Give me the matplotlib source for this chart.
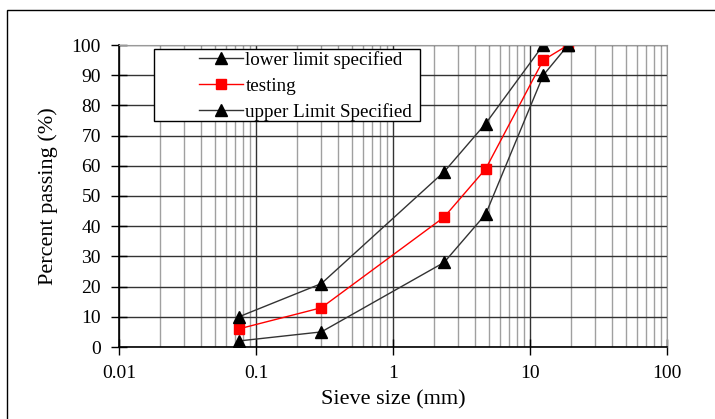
import matplotlib
matplotlib.use('Agg')
import matplotlib.pyplot as plt
from matplotlib.patches import Rectangle
from matplotlib.ticker import LogLocator, FixedLocator, NullFormatter

plt.rcParams['font.family'] = ['Liberation Serif', 'DejaVu Serif']

# sieve sizes (mm) and percent passing
sieve = [0.075, 0.3, 2.36, 4.75, 12.5, 19]
lower = [2, 5, 28, 44, 90, 100]
testing = [6, 13, 43, 59, 95, 100]
upper = [10, 21, 58, 74, 100, 100]

W, H = 715, 419
fig = plt.figure(figsize=(W / 100, H / 100), dpi=100)
ax = fig.add_axes([119 / W, 1 - 347 / H, (667 - 119) / W, (347 - 45) / H])

# outer frame of the picture
fig.patches.append(Rectangle((7 / W, -0.1), 1.2, 1 - 10 / H + 0.1,
                             transform=fig.transFigure, fill=False,
                             edgecolor='black', linewidth=1.0, zorder=0))

ax.set_xscale('log')
ax.set_xlim(0.01, 100)
ax.set_ylim(0, 100)
ax.yaxis.set_major_locator(FixedLocator(range(0, 101, 10)))
ax.xaxis.set_minor_locator(LogLocator(base=10, subs=range(2, 10)))
ax.xaxis.set_minor_formatter(NullFormatter())
ax.set_xticks([0.01, 0.1, 1, 10, 100])
ax.set_xticklabels(['0.01', '0.1', '1', '10', '100'])

ax.grid(which='major', axis='x', color='#333333', linewidth=1.0)
ax.grid(which='minor', axis='x', color='#a0a0a0', linewidth=1.0)
ax.grid(which='major', axis='y', color='#333333', linewidth=1.0)
ax.set_axisbelow(True)

ax.tick_params(which='major', direction='inout', length=12, width=1,
               labelsize=14, pad=7)
ax.tick_params(which='minor', length=0)

ax.spines['top'].set_color('#999999')
ax.spines['right'].set_color('#999999')
ax.spines['left'].set_linewidth(1.2)
ax.spines['bottom'].set_linewidth(1.2)

ax.plot(sieve, lower, color='#333333', marker='^', markersize=8,
        markerfacecolor='black', markeredgecolor='black', linewidth=1,
        label='lower limit specified')
ax.plot(sieve, testing, color='red', marker='s', markersize=7,
        markerfacecolor='red', markeredgecolor='red', linewidth=1,
        label='testing')
ax.plot(sieve, upper, color='#333333', marker='^', markersize=8,
        markerfacecolor='black', markeredgecolor='black', linewidth=1,
        label='upper Limit Specified')

ax.set_xlabel('Sieve size (mm)', fontsize=16, labelpad=6)
ax.set_ylabel('Percent passing (%)', fontsize=16, labelpad=10)

# legend box (drawn separately, it has a wide empty margin on the left)
x0, x1 = 154, 420
y0, y1 = 49, 121
ax.add_patch(Rectangle(((x0 - 119) / 548, 1 - (y1 - 45) / 302),
                       (x1 - x0) / 548, (y1 - y0) / 302,
                       transform=ax.transAxes, facecolor='white',
                       edgecolor='black', linewidth=1.0, zorder=4))
leg = ax.legend(loc='upper left', bbox_to_anchor=((196 - 119) / 548, 1 - (48 - 45) / 302),
                fontsize=13.7, frameon=False, borderpad=0.15,
                labelspacing=0.45, handlelength=2.3, handletextpad=0.15,
                borderaxespad=0)
leg.set_zorder(5)

fig.savefig('out.png', dpi=100)
